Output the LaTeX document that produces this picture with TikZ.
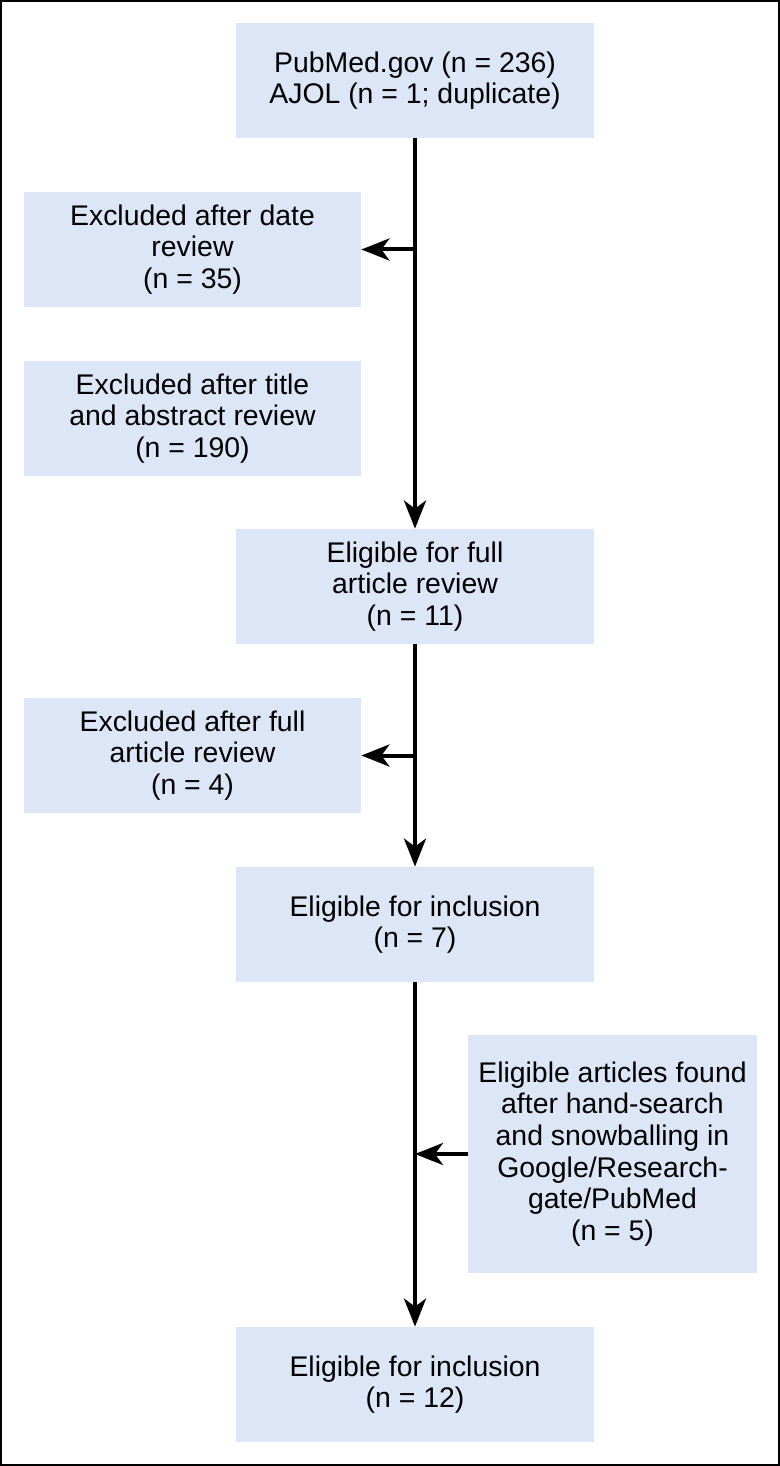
\documentclass[tikz,border=0pt]{standalone}
\usepackage{fontspec}
\setmainfont{Liberation Sans}
\usetikzlibrary{arrows.meta}
\definecolor{boxblue}{RGB}{220,230,247}
\begin{document}
\begin{tikzpicture}[x=0.5pt, y=-0.5pt,
    box/.style={fill=boxblue, inner sep=0pt, align=center, minimum width=179pt, minimum height=57.5pt, font=\fontsize{14.2pt}{15.8pt}\selectfont},
    exbox/.style={box, minimum width=168.5pt},
    arr/.style={line width=2pt, -{Stealth[length=14pt, width=11pt, inset=4pt]}}]
        \useasboundingbox (0,0) rectangle (780,1466);
        \draw [line width=1.2pt] (1,1) rectangle (779,1465);

        \node [box] (A) at (415,80.5) {PubMed.gov (n = 236)\\AJOL (n = 1; duplicate)};
        \node [exbox] (B) at (192.5,249.5) {Excluded after date\\review\\(n = 35)};
        \node [exbox] (C) at (192.5,418.5) {Excluded after title\\and abstract review\\(n = 190)};
        \node [box] (D) at (415,586.5) {Eligible for full\\article review\\(n = 11)};
        \node [exbox] (E) at (192.5,755.5) {Excluded after full\\article review\\(n = 4)};
        \node [box] (F) at (415,924.5) {Eligible for inclusion\\(n = 7)};
        \node [box, minimum width=144.5pt, minimum height=119pt] (G) at (612.5,1154) {Eligible articles found\\after hand-search\\and snowballing in\\Google/Research-\\gate/PubMed\\(n = 5)};
        \node [box] (H) at (415,1384.5) {Eligible for inclusion\\(n = 12)};

        \draw [arr] (A) -- (D); \draw [arr] (A.south |- B.east) -- (B.east);
        \draw [arr] (D) -- (F); \draw [arr] (D.south |- E.east) -- (E.east);
        \draw [arr] (F) -- (H); \draw [arr] (G.west) -- (G.west -| F.south);
    \end{tikzpicture}
\end{document}
